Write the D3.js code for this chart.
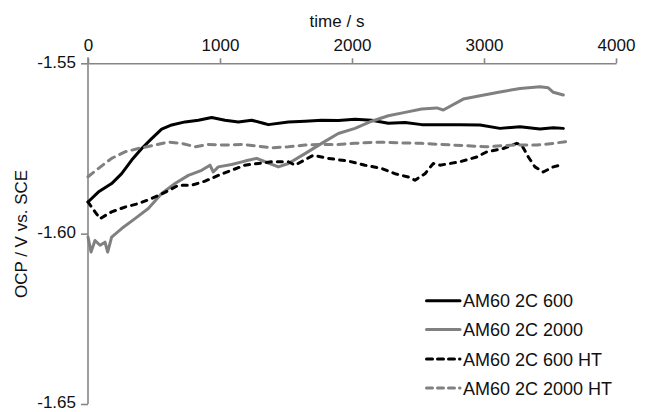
<!DOCTYPE html>
<html>
<head>
<meta charset="utf-8">
<script src="https://cdn.jsdelivr.net/npm/d3@7"></script>
<style>
  body { margin: 0; background: #fff; }
  svg { display: block; font-family: "Liberation Sans", Arial, sans-serif; }
</style>
</head>
<body>
<div class="chart"></div>
<script>
// AM60 2C 600
let t600 = [0,78,179,255,331,407,482,558,634,735,836,937,1038,1139,1240,1328,1366,1518,1644,1770,1896,2023,2149,2275,2402,2528,2667,2818,2970,3121,3273,3424,3525,3601];
let v600 = [-1.5907,-1.5878,-1.5853,-1.5824,-1.5784,-1.5750,-1.5721,-1.5693,-1.5681,-1.5672,-1.5667,-1.5659,-1.5667,-1.5672,-1.5667,-1.5676,-1.5680,-1.5672,-1.5670,-1.5667,-1.5668,-1.5664,-1.5667,-1.5676,-1.5674,-1.5680,-1.5680,-1.5680,-1.5681,-1.5691,-1.5686,-1.5693,-1.5689,-1.5691];

// AM60 2C 2000
let t2000 = [0,23,53,91,129,149,179,255,356,457,558,659,760,861,924,949,987,1088,1189,1278,1341,1442,1518,1644,1770,1896,2023,2149,2275,2402,2528,2642,2692,2843,2970,3121,3273,3424,3487,3525,3601];
let v2000 = [-1.6010,-1.6054,-1.6020,-1.6034,-1.6025,-1.6054,-1.6010,-1.5985,-1.5956,-1.5926,-1.5882,-1.5853,-1.5829,-1.5814,-1.5799,-1.5819,-1.5804,-1.5797,-1.5787,-1.5779,-1.5789,-1.5804,-1.5794,-1.5765,-1.5735,-1.5706,-1.5691,-1.5670,-1.5654,-1.5644,-1.5634,-1.5631,-1.5637,-1.5605,-1.5595,-1.5584,-1.5574,-1.5569,-1.5572,-1.5585,-1.5593];

// AM60 2C 600 HT
let t600ht = [0,53,91,179,280,381,482,583,684,785,886,987,1088,1189,1290,1391,1518,1568,1707,1820,1972,2098,2225,2326,2427,2477,2553,2616,2667,2818,2945,3020,3146,3248,3286,3336,3386,3449,3525,3601];
let v600ht = [-1.5907,-1.5936,-1.5956,-1.5936,-1.5922,-1.5912,-1.5897,-1.5879,-1.5858,-1.5858,-1.5846,-1.5829,-1.5814,-1.5799,-1.5794,-1.5789,-1.5789,-1.5799,-1.5770,-1.5779,-1.5787,-1.5799,-1.5809,-1.5824,-1.5834,-1.5843,-1.5824,-1.5794,-1.5799,-1.5789,-1.5775,-1.5760,-1.5750,-1.5735,-1.5740,-1.5775,-1.5804,-1.5819,-1.5804,-1.5797];

// AM60 2C 2000 HT
let t2000ht = [0,78,179,280,381,482,608,710,811,911,1038,1164,1265,1391,1518,1644,1770,1896,2023,2149,2275,2402,2528,2767,3020,3222,3399,3525,3639];
let v2000ht = [-1.5833,-1.5809,-1.5779,-1.5760,-1.5750,-1.5742,-1.5731,-1.5735,-1.5745,-1.5738,-1.5740,-1.5738,-1.5742,-1.5748,-1.5745,-1.5740,-1.5738,-1.5738,-1.5735,-1.5732,-1.5732,-1.5734,-1.5735,-1.5740,-1.5745,-1.5740,-1.5740,-1.5735,-1.5729];

let seriesNames = ["AM60 2C 600", "AM60 2C 2000", "AM60 2C 600 HT", "AM60 2C 2000 HT"];
let xTicks = [0, 1000, 2000, 3000, 4000];
let yTicks = [-1.55, -1.60, -1.65];

let width = 648;
let height = 412;

let svg = d3.select(".chart")
  .append("svg")
  .attr("width", width)
  .attr("height", height);

let x = d3.scaleLinear().domain([0, 4000]).range([88, 616]);
let y = d3.scaleLinear().domain([-1.55, -1.65]).range([63.3, 404]);

let axisColor = "#868686";

// top x axis
let xAxis = svg.append("g")
  .attr("transform", "translate(0," + y(-1.55) + ")")
  .call(d3.axisTop(x).tickValues(xTicks).tickSizeInner(5).tickSizeOuter(0).tickPadding(7).tickFormat(d3.format("d")));

// left y axis
let yAxis = svg.append("g")
  .attr("transform", "translate(" + x(0) + ",0)")
  .call(d3.axisLeft(y).tickValues(yTicks).tickSizeInner(7).tickSizeOuter(0).tickPadding(5)
    .tickFormat(function(d) { return d.toFixed(2); }));

[xAxis, yAxis].forEach(function(a) {
  a.select(".domain").attr("stroke", axisColor).attr("stroke-width", 1.6);
  a.selectAll(".tick line").attr("stroke", axisColor).attr("stroke-width", 1.6);
  a.selectAll(".tick text").attr("fill", "#111").attr("font-size", 17)
    .attr("font-family", "'Liberation Sans', Arial, sans-serif");
});
// keep the bottom label inside the picture
yAxis.selectAll(".tick text").attr("dy", "0.22em");
// y axis runs a little above the x axis line
yAxis.select(".domain").attr("d", "M0," + (y(-1.55) - 6) + "V" + y(-1.65));

svg.append("text")
  .attr("x", 337)
  .attr("y", 27)
  .attr("text-anchor", "middle")
  .attr("font-size", 17)
  .attr("fill", "#111")
  .text("time / s");

svg.append("text")
  .attr("transform", "translate(27,234) rotate(-90)")
  .attr("text-anchor", "middle")
  .attr("font-size", 17)
  .attr("fill", "#111")
  .text("OCP / V vs. SCE");

let styles = [
  { color: "#000", dash: null },
  { color: "#808080", dash: null },
  { color: "#000", dash: "5,6" },
  { color: "#808080", dash: "7,6" }
];

let data = [
  d3.zip(t600, v600),
  d3.zip(t2000, v2000),
  d3.zip(t600ht, v600ht),
  d3.zip(t2000ht, v2000ht)
];

let line = d3.line()
  .x(function(d) { return x(d[0]); })
  .y(function(d) { return y(d[1]); });

svg.selectAll(".series")
  .data(data)
  .enter().append("path")
  .attr("class", "series")
  .attr("d", line)
  .attr("fill", "none")
  .attr("stroke", function(d, i) { return styles[i].color; })
  .attr("stroke-width", 3)
  .attr("stroke-linejoin", "round")
  .attr("stroke-linecap", "round")
  .attr("stroke-dasharray", function(d, i) { return styles[i].dash; });

// legend
let legendY = [300.7, 329.5, 359, 388];
let legend = svg.selectAll(".legend")
  .data(seriesNames)
  .enter().append("g")
  .attr("class", "legend")
  .attr("transform", function(d, i) { return "translate(425," + legendY[i] + ")"; });

legend.append("line")
  .attr("x1", 1.5)
  .attr("x2", 35)
  .attr("y1", 0)
  .attr("y2", 0)
  .attr("stroke", function(d, i) { return styles[i].color; })
  .attr("stroke-width", 3)
  .attr("stroke-linecap", "round")
  .attr("stroke-dasharray", function(d, i) { return styles[i].dash ? "6,5" : null; });

legend.append("text")
  .attr("x", 38)
  .attr("y", 6.5)
  .attr("font-size", 18)
  .attr("fill", "#111")
  .text(function(d) { return d; });
</script>
</body>
</html>
